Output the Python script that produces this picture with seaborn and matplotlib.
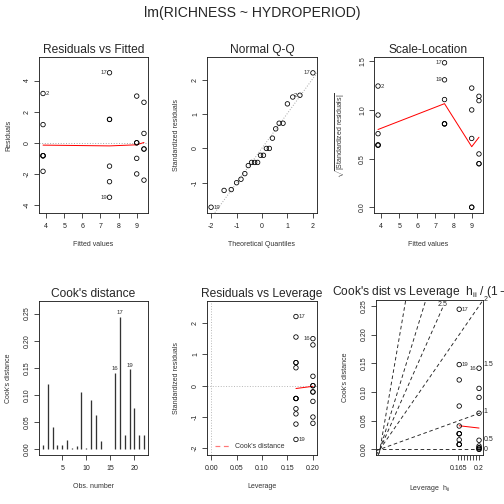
import numpy as np
import pandas as pd
import matplotlib
matplotlib.use('Agg')
import matplotlib.pyplot as plt
import seaborn as sns
from statistics import NormalDist

# model data: species richness per wetland (obs 1..22) and hydroperiod class
richness = [3, 7, 2, 3, 3, 5, 9, 10, 12, 9, 7, 7, 8, 9, 9, 12, 12, 9, 4, 5, 9, 6]
hydroperiod = ['A'] * 6 + ['B'] * 5 + ['C'] * 5 + ['D'] * 6

# red smoother curves
rvf_smooth_x = [3.833, 7.5, 9.0, 9.4]
rvf_smooth_y = [-0.15, -0.2, -0.13, 0.02]
sl_smooth_x = [3.833, 7.5, 9.0, 9.4]
sl_smooth_y = [0.80, 1.066, 0.623, 0.72]
rvl_smooth_x = [0.1667, 0.2]
rvl_smooth_y = [-0.09, -0.02]
cvl_smooth_x = [0.2, 0.25]
cvl_smooth_y = [0.041, 0.037]

# contour levels in the last panel and its h_ii tick values
bval = [0, 0.5, 1, 1.5, 2, 2.5]
hat_ticks = [0.165, 0.17, 0.175, 0.18, 0.185, 0.19, 0.195, 0.2]
hat_labels = ['0.165', '', '', '', '', '', '', '0.2']

# fit the one-way model
df = pd.DataFrame({'RICHNESS': richness, 'HYDROPERIOD': hydroperiod})
X = pd.get_dummies(df['HYDROPERIOD'], drop_first=True).astype(float)
X.insert(0, 'Intercept', 1.0)
X = X.values
y = df['RICHNESS'].values.astype(float)
beta = np.linalg.lstsq(X, y, rcond=None)[0]
fitted = X @ beta
resid = y - fitted
n, p = X.shape
H = X @ np.linalg.inv(X.T @ X) @ X.T
hii = np.diag(H)
s = np.sqrt(np.sum(resid ** 2) / (n - p))
rs = resid / (s * np.sqrt(1 - hii))
cook = rs ** 2 * hii / (p * (1 - hii))
obs = np.arange(1, n + 1)

sns.set_style('ticks')
plt.rcParams['font.family'] = ['Liberation Sans', 'DejaVu Sans']
plt.rcParams['mathtext.fontset'] = 'custom'
plt.rcParams['mathtext.rm'] = 'Liberation Sans'
plt.rcParams['mathtext.it'] = 'Liberation Sans:italic'
plt.rcParams['axes.unicode_minus'] = False

TXT = '#333333'


def ext(lo, hi, f=0.04):
    d = (hi - lo) * f
    return lo - d, hi + d


def style(ax):
    for sp in ax.spines.values():
        sp.set_linewidth(0.9)
        sp.set_color('#222222')
    ax.tick_params(length=5, width=0.8, labelsize=7, colors='#222222')
    ax.tick_params(axis='x', pad=5)
    ax.tick_params(axis='y', pad=3, labelrotation=90)
    for t in ax.get_yticklabels():
        t.set_va('center')


def points(ax, x, yv):
    sns.scatterplot(x=x, y=yv, ax=ax, marker='o', s=20, facecolor='none',
                    edgecolor='black', linewidth=0.8, zorder=3, legend=False)


def label_pts(ax, x, yv, ids, xmid):
    for xi, yi, i in zip(x, yv, ids):
        right = xi <= xmid
        ax.annotate(str(i), (xi, yi), xytext=(2.5 if right else -2.5, 0),
                    textcoords='offset points', ha='left' if right else 'right',
                    va='center', fontsize=6, color=TXT)


def titles(ax, title, xl, yl):
    ax.set_title(title, fontsize=12, pad=4)
    ax.set_xlabel(xl, fontsize=7, labelpad=11, color=TXT)
    ax.set_ylabel(yl, fontsize=7, labelpad=12, color=TXT)


fig = plt.figure(figsize=(7, 7), dpi=72)
W = 504.0


def box(l, t, r, b):
    return fig.add_axes([l / W, 1 - b / W, (r - l) / W, (b - t) / W])


ax1 = box(39, 57, 148, 213)
ax2 = box(207, 57, 317, 213)
ax3 = box(374, 57, 483, 213)
ax4 = box(39, 301, 148, 455)
ax5 = box(207, 301, 317, 455)
ax6 = box(376, 300, 483, 455)

fig.text(0.5, 1 - 13 / W, 'lm(RICHNESS ~ HYDROPERIOD)', ha='center', va='center', fontsize=14)

# 1 Residuals vs Fitted
ax = ax1
ax.axhline(0, color='#aaaaaa', ls=':', lw=1)
points(ax, fitted, resid)
sns.lineplot(x=rvf_smooth_x, y=rvf_smooth_y, ax=ax, color='red', lw=1, sort=False)
top = np.argsort(-np.abs(resid))[:3]
label_pts(ax, fitted[top], resid[top], obs[top], (fitted.min() + fitted.max()) / 2)
ax.set_xlim(*ext(fitted.min(), fitted.max()))
ylo, yhi = ext(resid.min(), resid.max(), 0.08)
ax.set_ylim(*ext(ylo, yhi))
ax.set_xticks([4, 5, 6, 7, 8, 9])
ax.set_yticks([-4, -2, 0, 2, 4])
titles(ax, 'Residuals vs Fitted', 'Fitted values', 'Residuals')
style(ax)

# 2 Normal Q-Q
ax = ax2
order = np.argsort(rs)
pp = (np.arange(1, n + 1) - 0.5) / n
tq = np.array([NormalDist().inv_cdf(v) for v in pp])
sq = rs[order]
qx = np.array([NormalDist().inv_cdf(0.25), NormalDist().inv_cdf(0.75)])
qy = np.quantile(rs, [0.25, 0.75])
slope = (qy[1] - qy[0]) / (qx[1] - qx[0])
icpt = qy[0] - slope * qx[0]
xl2 = ext(tq.min(), tq.max())
ax.plot(xl2, [icpt + slope * v for v in xl2], color='#aaaaaa', ls=':', lw=1)
points(ax, tq, sq)
top = np.argsort(-np.abs(sq))[:3]
label_pts(ax, tq[top], sq[top], obs[order][top], 0)
ax.set_xlim(*xl2)
yhi = rs.max() + (rs.max() - rs.min()) * 0.075
ax.set_ylim(*ext(rs.min(), yhi))
ax.set_xticks([-2, -1, 0, 1, 2])
ax.set_yticks([-1, 0, 1, 2])
titles(ax, 'Normal Q-Q', 'Theoretical Quantiles', 'Standardized residuals')
style(ax)

# 3 Scale-Location
ax = ax3
sabs = np.sqrt(np.abs(rs))
points(ax, fitted, sabs)
sns.lineplot(x=sl_smooth_x, y=sl_smooth_y, ax=ax, color='red', lw=1, sort=False)
top = np.argsort(-np.abs(rs))[:3]
label_pts(ax, fitted[top], sabs[top], obs[top], (fitted.min() + fitted.max()) / 2)
ax.set_xlim(*ext(fitted.min(), fitted.max()))
ax.set_ylim(*ext(0, sabs.max()))
ax.set_xticks([4, 5, 6, 7, 8, 9])
ax.set_yticks([0, 0.5, 1.0, 1.5])
ax.set_yticklabels(['0.0', '0.5', '1.0', '1.5'])
titles(ax, 'Scale-Location', 'Fitted values',
       r'$\sqrt{|\mathrm{Standardized\ residuals}|}$')
style(ax)

# 4 Cook's distance
ax = ax4
ax.vlines(obs, 0, cook, color='#333333', lw=1.3)
top = np.argsort(-cook)[:3]
for i in top:
    ax.annotate(str(obs[i]), (obs[i], cook[i]), xytext=(0, 1.5), textcoords='offset points',
                ha='center', va='bottom', fontsize=6, color=TXT)
ax.set_xlim(*ext(1, n))
ax.set_ylim(*ext(0, cook.max() * 1.075))
ax.set_xticks([5, 10, 15, 20])
ax.set_yticks([0, 0.05, 0.10, 0.15, 0.20, 0.25])
ax.set_yticklabels(['0.00', '0.05', '0.10', '0.15', '0.20', '0.25'])
titles(ax, "Cook's distance", 'Obs. number', "Cook's distance")
style(ax)

# 5 Residuals vs Leverage
ax = ax5
ax.axhline(0, color='#bbbbbb', ls=':', lw=1)
ax.axvline(0, color='#bbbbbb', ls=':', lw=1)
points(ax, hii, rs)
sns.lineplot(x=rvl_smooth_x, y=rvl_smooth_y, ax=ax, color='red', lw=1, sort=False)
top = np.argsort(-cook)[:3]
label_pts(ax, hii[top], rs[top], obs[top], (hii.min() + hii.max()) / 2)
ax.set_xlim(*ext(0, hii.max()))
ylo, yhi = ext(rs.min(), rs.max(), 0.08)
ax.set_ylim(*ext(ylo, yhi))
ax.set_xticks([0, 0.05, 0.10, 0.15, 0.20])
ax.set_xticklabels(['0.00', '0.05', '0.10', '0.15', '0.20'])
ax.set_yticks([-2, -1, 0, 1, 2])
ax.plot([0.073, 0.21], [0.058, 0.058], transform=ax.transAxes, color='#ff7777',
        ls=(0, (4, 3)), lw=1.2)
ax.text(0.255, 0.058, "Cook's distance", transform=ax.transAxes, fontsize=7,
        va='center', color=TXT)
titles(ax, 'Residuals vs Leverage', 'Leverage', 'Standardized residuals')
style(ax)

# 6 Cook's dist vs Leverage
ax = ax6
g = hii / (1 - hii)
xmin6, xmax6 = ext(0, g.max())
ymx = cook.max() * 1.025
ymin6, ymax6 = ext(0, ymx)
ax.set_xlim(xmin6, xmax6)
ax.set_ylim(ymin6, ymax6)
sh = 0.0088
for b in bval:
    bi2 = b ** 2
    if p * ymax6 > bi2 * xmax6:
        ax.plot([xmin6, xmax6], [bi2 * xmin6, bi2 * xmax6], color='#222222', ls=(0, (4, 3)), lw=0.9)
        xi = xmax6 + 0.002
        ax.text(xi, bi2 * xi / p, f'{b:g}', fontsize=7, ha='left', va='center', clip_on=False)
    else:
        yi = ymax6 - 1.5 * sh
        xi = p * yi / bi2
        ax.plot([0, xi], [0, yi], color='#222222', ls=(0, (4, 3)), lw=0.9)
        ax.text(xi, ymax6 - 0.8 * sh, f'{b:g}', fontsize=7, ha='center', va='center', clip_on=False)
points(ax, g, cook)
sns.lineplot(x=cvl_smooth_x, y=cvl_smooth_y, ax=ax, color='red', lw=1, sort=False)
top = np.argsort(-cook)[:3]
label_pts(ax, g[top], cook[top], obs[top], (g.min() + g.max()) / 2)
ax.set_xticks([a / (1 - a) for a in hat_ticks])
ax.set_xticklabels(hat_labels)
ax.set_yticks([0, 0.05, 0.10, 0.15, 0.20, 0.25])
ax.set_yticklabels(['0.00', '0.05', '0.10', '0.15', '0.20', '0.25'])
titles(ax, '', r'Leverage  $\mathrm{h}_{\mathrm{ii}}$', "Cook's distance")
ax.set_title(r"Cook's dist vs Leverage  $\mathrm{h}_{\mathrm{ii}}\ /\ (1-\mathrm{h}_{\mathrm{ii}})$",
             fontsize=12, pad=5, loc='left', x=-0.41)
style(ax)

fig.savefig('out.png', dpi=72)
